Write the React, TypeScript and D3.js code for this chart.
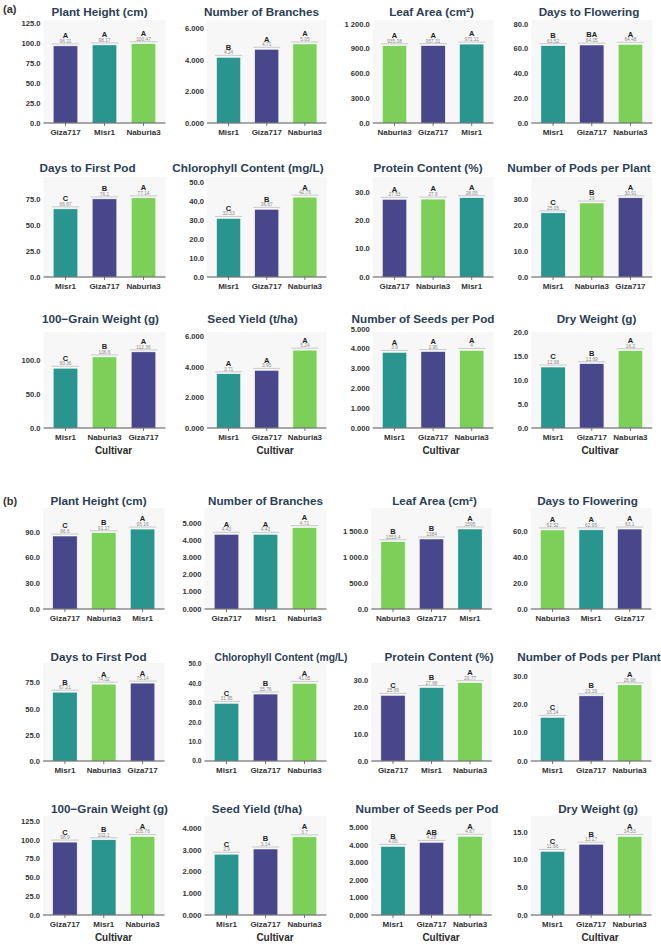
import { useEffect, useRef } from "react"
import * as d3 from "d3"

const cultivars = ["Giza717", "Misr1", "Naburia3"]
const cultivarColors = ["#48478c", "#2a958f", "#7cd05a"]

const titles = [
    "Plant Height (cm)", "Number of Branches", "Leaf Area (cm²)", "Days to Flowering",
    "Days to First Pod", "Chlorophyll Content (mg/L)", "Protein Content (%)", "Number of Pods per Plant",
    "100−Grain Weight (g)", "Seed Yield (t/ha)", "Number of Seeds per Pod", "Dry Weight (g)",
]
const tickFormats = ["1f", "3f", "s1f", "1f", "1f", "1f", "1f", "1f", "1f", "3f", "3f", "1f"]

// (a)
const orderA = [
    ["Giza717", "Misr1", "Naburia3"], ["Misr1", "Giza717", "Naburia3"], ["Naburia3", "Giza717", "Misr1"], ["Misr1", "Giza717", "Naburia3"],
    ["Misr1", "Giza717", "Naburia3"], ["Misr1", "Giza717", "Naburia3"], ["Giza717", "Naburia3", "Misr1"], ["Misr1", "Naburia3", "Giza717"],
    ["Misr1", "Naburia3", "Giza717"], ["Misr1", "Giza717", "Naburia3"], ["Misr1", "Giza717", "Naburia3"], ["Misr1", "Giza717", "Naburia3"],
]
const valuesA = [
    [96.4, 97.6, 99.1], [4.17, 4.68, 5.02], [936, 938, 956], [62.5, 63.0, 63.6],
    [65.4, 75.0, 76.0], [30.8, 35.6, 42.0], [27.4, 27.5, 28.0], [24.7, 28.5, 30.5],
    [87.8, 104.4, 111.8], [3.56, 3.78, 5.11], [3.82, 3.86, 3.92], [12.7, 13.4, 16.1],
]
const lettersA = [
    ["A", "A", "A"], ["B", "A", "A"], ["A", "A", "A"], ["B", "BA", "A"],
    ["C", "B", "A"], ["C", "B", "A"], ["A", "A", "A"], ["C", "B", "A"],
    ["C", "B", "A"], ["A", "A", "A"], ["A", "A", "A"], ["C", "B", "A"],
]
const labelsA = [
    ["96.21", "98.17", "100.47"], ["4.24", "4.71", "5.05"], ["935.08", "957.31", "971.11"], ["63.52", "64.05", "64.48"],
    ["66.67", "76.1", "77.14"], ["32.33", "36.67", "42.76"], ["27.53", "27.6", "28.05"], ["25.05", "29", "30.91"],
    ["90.36", "106.6", "112.36"], ["3.71", "3.95", "5.24"], ["3.9", "3.95", "4"], ["12.98", "13.69", "16.2"],
]
const ticksA = [
    [0, 25, 50, 75, 100, 125], [0, 2, 4, 6], [0, 300, 600, 900, 1200], [0, 20, 40, 60, 80],
    [0, 25, 50, 75], [0, 10, 20, 30, 40, 50], [0, 10, 20, 30], [0, 10, 20, 30],
    [0, 50, 100], [0, 2, 4, 6], [0, 1, 2, 3, 4, 5], [0, 5, 10, 15, 20],
]
const yMaxA = [128.75, 6.54, 1248, 83.2, 96, 52.6, 35.3, 38.5, 141, 6.3, 4.85, 20]

// (b)
const orderB = [
    ["Giza717", "Naburia3", "Misr1"], ["Giza717", "Misr1", "Naburia3"], ["Naburia3", "Giza717", "Misr1"], ["Naburia3", "Misr1", "Giza717"],
    ["Misr1", "Naburia3", "Giza717"], ["Misr1", "Giza717", "Naburia3"], ["Giza717", "Misr1", "Naburia3"], ["Misr1", "Giza717", "Naburia3"],
    ["Giza717", "Misr1", "Naburia3"], ["Misr1", "Giza717", "Naburia3"], ["Misr1", "Giza717", "Naburia3"], ["Misr1", "Giza717", "Naburia3"],
]
const valuesB = [
    [85.2, 89.0, 93.3], [4.34, 4.34, 4.73], [1294, 1346, 1538], [60.8, 60.9, 61.5],
    [66.0, 73.7, 74.7], [29.7, 34.5, 40.0], [24.3, 27.2, 29.0], [15.4, 23.0, 26.9],
    [97.2, 100.3, 104.7], [2.8, 3.04, 3.6], [3.92, 4.15, 4.5], [11.5, 12.8, 14.2],
]
const lettersB = [
    ["C", "B", "A"], ["A", "A", "A"], ["B", "B", "A"], ["A", "A", "A"],
    ["B", "A", "A"], ["C", "B", "A"], ["C", "B", "A"], ["C", "B", "A"],
    ["C", "B", "A"], ["C", "B", "A"], ["B", "AB", "A"], ["C", "B", "A"],
]
const labelsB = [
    ["86.6", "91.17", "95.16"], ["4.43", "4.43", "4.71"], ["1353.4", "1384", "1595"], ["62.52", "62.95", "63.1"],
    ["67.21", "74.02", "75.14"], ["31.95", "35.76", "41.05"], ["25.89", "27.68", "29.77"], ["16.14", "23.39", "26.96"],
    ["98.9", "102.1", "105.76"], ["2.9", "3.14", "3.7"], ["4.05", "4.28", "4.67"], ["11.66", "13.17", "14.53"],
]
const ticksB = [
    [0, 30, 60, 90], [0, 1, 2, 3, 4, 5], [0, 500, 1000, 1500], [0, 20, 40, 60],
    [0, 25, 50, 75], [0, 10, 20, 30, 40, 50], [0, 10, 20, 30], [0, 10, 20, 30],
    [0, 25, 50, 75, 100, 125], [0, 1, 2, 3, 4], [0, 1, 2, 3, 4, 5], [0, 5, 10, 15],
]
const yMaxB = [117.9, 5.87, 1942, 77.7, 94, 50.5, 36.3, 34.6, 132, 4.56, 5.66, 17.9]

// layout
const colRangesA = [[46, 163], [209.5, 324], [375.25, 491], [533.75, 649.75]]
const colRangesB = [[45.5, 162], [207, 324], [373.75, 489.25], [533.25, 649]]
const rowsA = [{ title: 16, top: 20, base: 123 }, { title: 172, top: 177, base: 277 }, { title: 322.5, top: 332, base: 428 }]
const rowsB = [{ title: 505, top: 508, base: 609 }, { title: 661, top: 663, base: 761 }, { title: 813, top: 816, base: 915 }]
const titleXA = [99.5, 261.5, 431.5, 589, 87.5, 248, 428, 579, 100.5, 252.5, 423, 596.5]
const titleXB = [98.5, 265.5, 434.5, 587.5, 98.5, 281, 439, 589, 109.5, 257, 427, 598]
const cultivarX = [113.5, 275, 441, 600]

const FONT = "'Liberation Sans', Arial, sans-serif"
const spaced = d3.formatLocale({ decimal: ".", thousands: " ", grouping: [3], currency: ["", ""] })
const formatters = { "1f": d3.format(".1f"), "3f": d3.format(".3f"), s1f: spaced.format(",.1f") }

export default function App() {
    const svgRef = useRef(null)

    useEffect(() => {
        const svg = d3.select(svgRef.current)
        svg.selectAll("*").remove()

        const color = d3.scaleOrdinal().domain(cultivars).range(cultivarColors)

        const section = (label, labelY, rows, cols, order, values, letters, labels, ticks, yMax, titleX) => {
            svg.append("text")
                .attr("x", 3).attr("y", labelY)
                .attr("font-family", FONT).attr("font-weight", "bold").attr("font-size", 11)
                .attr("fill", "#333").text(label)

            for (let i = 0; i < 12; i++) {
                const row = rows[Math.floor(i / 4)]
                const [x0, x1] = cols[i % 4]
                const small = label === "(b)" && i === 5 ? 0.88 : 1
                const g = svg.append("g")

                const x = d3.scaleBand().domain(order[i]).range([x0, x1]).paddingInner(0.37).paddingOuter(0.185)
                const y = d3.scaleLinear().domain([0, yMax[i]]).range([row.base, row.top])
                const fmt = formatters[tickFormats[i]]
                const bgX0 = x0 - 2.5
                const bgX1 = x1 + 2.5

                g.append("rect")
                    .attr("x", bgX0).attr("y", row.top)
                    .attr("width", bgX1 - bgX0).attr("height", row.base - row.top)
                    .attr("fill", "#f7f7f7")

                g.append("text")
                    .attr("x", titleX[i]).attr("y", row.title)
                    .attr("text-anchor", "middle")
                    .attr("font-family", FONT).attr("font-weight", "bold")
                    .attr("font-size", 11.7 * small)
                    .attr("fill", "#2c3e55").text(titles[i])

                g.selectAll(".ytick").data(ticks[i]).enter().append("text")
                    .attr("x", bgX0 - 3).attr("y", (d) => y(d))
                    .attr("dy", "0.35em").attr("text-anchor", "end")
                    .attr("font-family", FONT).attr("font-weight", "bold")
                    .attr("font-size", 7.6 * small).attr("fill", "#333")
                    .text((d) => fmt(d))

                const rows3 = order[i].map((c, j) => ({ c, v: values[i][j], letter: letters[i][j], label: labels[i][j] }))

                g.selectAll(".bar").data(rows3).enter().append("rect")
                    .attr("x", (d) => x(d.c)).attr("y", (d) => y(d.v))
                    .attr("width", x.bandwidth()).attr("height", (d) => row.base - y(d.v))
                    .attr("fill", (d) => color(d.c))
                    .attr("stroke", "#ffffff").attr("stroke-width", 0.5)

                g.selectAll(".cap").data(rows3).enter().append("line")
                    .attr("x1", (d) => x(d.c) - 1.5).attr("x2", (d) => x(d.c) + x.bandwidth() + 1.5)
                    .attr("y1", (d) => y(d.v) - 2).attr("y2", (d) => y(d.v) - 2)
                    .attr("stroke", "#c4c4c4").attr("stroke-width", 0.9)

                g.selectAll(".val").data(rows3).enter().append("text")
                    .attr("x", (d) => x(d.c) + x.bandwidth() / 2).attr("y", (d) => y(d.v) - 3)
                    .attr("text-anchor", "middle")
                    .attr("font-family", FONT).attr("font-size", 4.8).attr("fill", "#8a8a8a")
                    .text((d) => d.label)

                g.selectAll(".letter").data(rows3).enter().append("text")
                    .attr("x", (d) => x(d.c) + x.bandwidth() / 2).attr("y", (d) => y(d.v) - 7.6)
                    .attr("text-anchor", "middle")
                    .attr("font-family", FONT).attr("font-weight", "bold")
                    .attr("font-size", 7.5).attr("fill", "#222")
                    .text((d) => d.letter)

                g.append("line")
                    .attr("x1", bgX0).attr("x2", bgX1)
                    .attr("y1", row.base).attr("y2", row.base)
                    .attr("stroke", "#555").attr("stroke-width", 1)

                g.selectAll(".xtick").data(order[i]).enter().append("line")
                    .attr("x1", (d) => x(d) + x.bandwidth() / 2).attr("x2", (d) => x(d) + x.bandwidth() / 2)
                    .attr("y1", row.base).attr("y2", row.base + 3)
                    .attr("stroke", "#555").attr("stroke-width", 0.8)

                g.selectAll(".xlab").data(order[i]).enter().append("text")
                    .attr("x", (d) => x(d) + x.bandwidth() / 2).attr("y", row.base + 12)
                    .attr("text-anchor", "middle")
                    .attr("font-family", FONT).attr("font-weight", "bold")
                    .attr("font-size", 8).attr("fill", "#333")
                    .text((d) => d)

                if (i >= 8) {
                    g.append("text")
                        .attr("x", cultivarX[i % 4]).attr("y", row.base + 26)
                        .attr("text-anchor", "middle")
                        .attr("font-family", FONT).attr("font-weight", "bold")
                        .attr("font-size", 10).attr("fill", "#2b2b2b")
                        .text("Cultivar")
                }
            }
        }

        section("(a)", 13, rowsA, colRangesA, orderA, valuesA, lettersA, labelsA, ticksA, yMaxA, titleXA)
        section("(b)", 505, rowsB, colRangesB, orderB, valuesB, lettersB, labelsB, ticksB, yMaxB, titleXB)
    }, [])

    return (
        <svg
            ref={svgRef}
            width={661}
            height={945}
            style={{ position: "absolute", left: 0, top: 0, background: "#ffffff" }}
        ></svg>
    )
}
